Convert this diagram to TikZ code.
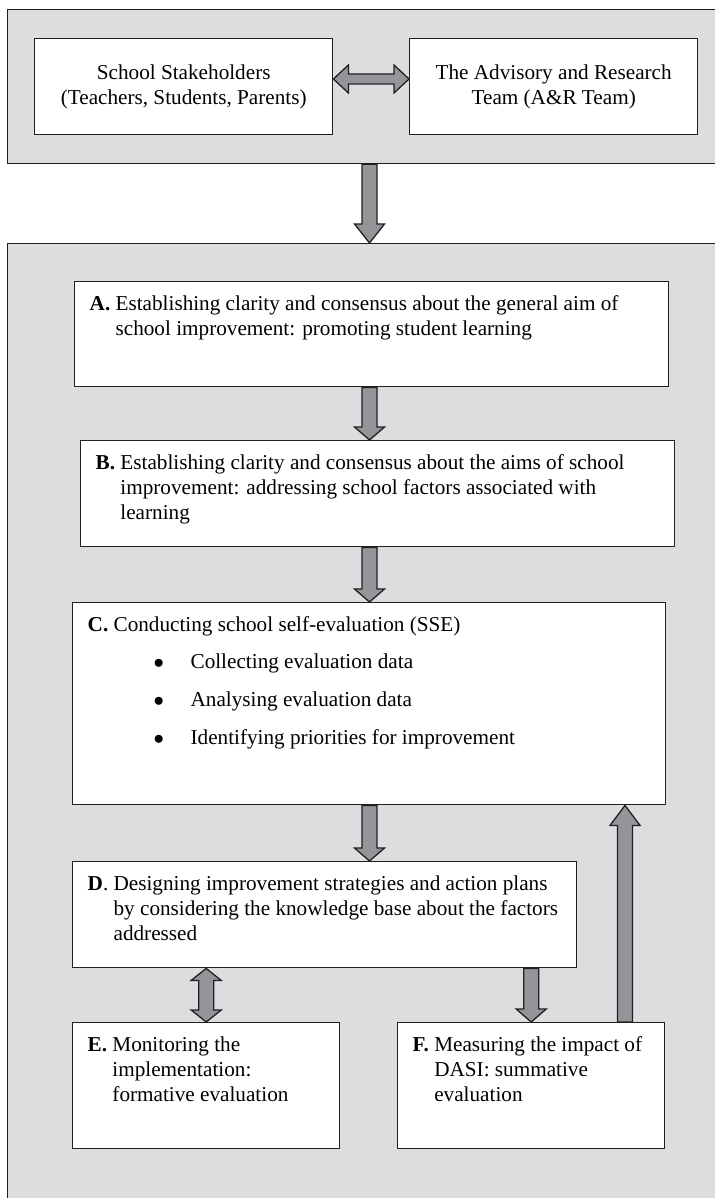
\documentclass[tikz,border=0pt]{standalone}
\usepackage{fontspec}
\setmainfont{Liberation Serif}
\usetikzlibrary{calc,positioning}
\definecolor{panelgrey}{RGB}{220,221,223}
\definecolor{flowgrey}{RGB}{148,149,153}
\definecolor{ink}{RGB}{35,31,32}

% phase text: bold label, then the lines hanging after it
\newcommand{\phase}[4]{\parbox[t][#2][t]{#1}{\begin{tabular}[t]{@{}l@{\ }l@{}}#3 & #4\end{tabular}}}
\newcommand{\sseitem}{\hspace*{40pt}\makebox[37pt][l]{$\bullet$}}
\newcommand{\shafthalf}{7.5pt}
\newcommand{\headhalf}{15pt}

% block arrow from tail to tip
\newcommand{\flowarrow}[3][14pt]{%
  \coordinate (fs) at (#2);
  \coordinate (fe) at (#3);
  \coordinate (fb) at ($(fe)!#1!(fs)$);
  \draw[flowfill] ($(fs)!\shafthalf!90:(fe)$) -- ($(fb)!\shafthalf!90:(fe)$)
    -- ($(fb)!\headhalf!90:(fe)$) -- (fe) -- ($(fb)!\headhalf!-90:(fe)$)
    -- ($(fb)!\shafthalf!-90:(fe)$) -- ($(fs)!\shafthalf!-90:(fe)$) -- cycle;
}
% block arrow with a head at each end
\newcommand{\twowayarrow}[3][14pt]{%
  \coordinate (fs) at (#2);
  \coordinate (fe) at (#3);
  \coordinate (fa) at ($(fs)!#1!(fe)$);
  \coordinate (fb) at ($(fe)!#1!(fs)$);
  \draw[flowfill] (fs) -- ($(fa)!\headhalf!90:(fe)$) -- ($(fa)!\shafthalf!90:(fe)$)
    -- ($(fb)!\shafthalf!90:(fe)$) -- ($(fb)!\headhalf!90:(fe)$) -- (fe)
    -- ($(fb)!\headhalf!-90:(fe)$) -- ($(fb)!\shafthalf!-90:(fe)$)
    -- ($(fa)!\shafthalf!-90:(fe)$) -- ($(fa)!\headhalf!-90:(fe)$) -- cycle;
}

\begin{document}
\begin{tikzpicture}[x=1pt, y=1pt,
    font=\fontsize{21.2}{25}\selectfont,
    panel/.style={draw=ink, line width=1.2pt, fill=panelgrey, anchor=north west, inner sep=0pt},
    partybox/.style={draw=ink, line width=1.4pt, fill=white, anchor=north west, align=center, minimum height=96},
    phasebox/.style={draw=ink, line width=1.4pt, fill=white, anchor=north west, inner xsep=15pt, inner ysep=11pt},
    flowfill/.style={draw=ink, line width=1.3pt, fill=flowgrey, line join=miter}]
  \useasboundingbox (0,0) rectangle (714,-1198);

  % panels
  \node[panel, minimum width=712, minimum height=154] (toppanel) at (7,-9) {};
  \node[panel, minimum width=712, minimum height=960] (process) at (7,-243) {};

  % partners
  \node[partybox, minimum width=298] (stakeholders) at (34,-38)
    {School Stakeholders\\(Teachers, Students, Parents)};
  \node[partybox, minimum width=288] (team) at (409,-38)
    {The Advisory and Research\\Team (A\&R Team)};

  % phases
  \node[phasebox] (boxA) at (74,-281) {\phase{564pt}{83pt}{\textbf{A.}}
    {Establishing clarity and consensus about the general aim of\\
     & school improvement: promoting student learning}};
  \node[phasebox] (boxB) at (80,-440) {\phase{564pt}{84pt}{\textbf{B.}}
    {Establishing clarity and consensus about the aims of school\\
     & improvement: addressing school factors associated with\\
     & learning}};
  \node[phasebox] (boxC) at (72,-602) {\phase{563pt}{180pt}{\textbf{C.}}
    {Conducting school self-evaluation (SSE)\\[12pt]
     & \sseitem Collecting evaluation data\\[13pt]
     & \sseitem Analysing evaluation data\\[13pt]
     & \sseitem Identifying priorities for improvement}};
  \node[phasebox] (boxD) at (72,-861) {\phase{474pt}{84pt}{\textbf{D}.}
    {Designing improvement strategies and action plans\\
     & by considering the knowledge base about the factors\\
     & addressed}};
  \node[phasebox] (boxE) at (72,-1022) {\phase{237pt}{104pt}{\textbf{E.}}
    {Monitoring the\\ & implementation:\\ & formative evaluation}};
  \node[phasebox] (boxF) at (397,-1022) {\phase{237pt}{104pt}{\textbf{F.}}
    {Measuring the impact of\\ & DASI: summative\\ & evaluation}};

  % arrows
  \coordinate (spine) at (369.5,0);
  \coordinate (link) at (0,-79);
  \coordinate (loop) at (625,0);
  \flowarrow[19pt]{toppanel.south -| spine}{process.north -| spine}
  \flowarrow[13pt]{boxA.south -| spine}{boxB.north -| spine}
  \flowarrow[13pt]{boxB.south -| spine}{boxC.north -| spine}
  \flowarrow[13pt]{boxC.south -| spine}{boxD.north -| spine}
  \flowarrow[13pt]{boxD.south -| boxF.north}{boxF.north}
  \flowarrow[20pt]{boxF.north -| loop}{boxC.south -| loop}
  \twowayarrow[12pt]{boxD.south -| boxE.north}{boxE.north}
  \renewcommand{\shafthalf}{5pt}
  \renewcommand{\headhalf}{14pt}
  \twowayarrow[15pt]{stakeholders.east |- link}{team.west |- link}
\end{tikzpicture}
\end{document}
